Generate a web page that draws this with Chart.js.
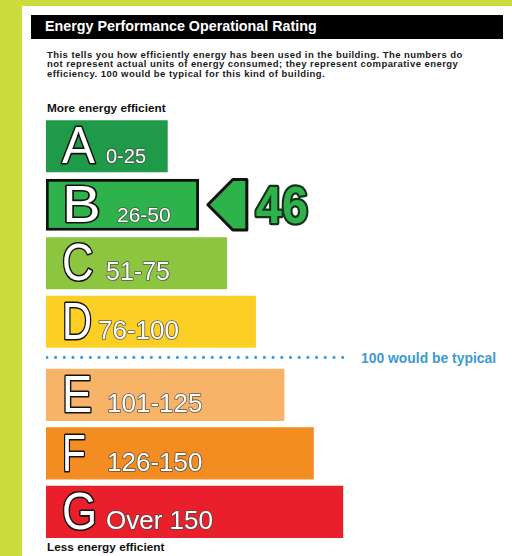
<!DOCTYPE html>
<html>
<head>
<meta charset="utf-8">
<script src="https://cdn.jsdelivr.net/npm/chart.js@4/dist/chart.umd.min.js"></script>
<style>
  html, body { margin:0; padding:0; }
  body { width:512px; height:556px; overflow:hidden; position:relative; background:#cddc3c; font-family:"Liberation Sans", Arial, sans-serif; }
  #panel { position:absolute; left:22px; top:6px; right:0; bottom:0; background:#ffffff; }
  #titlebar { position:absolute; left:31px; top:15px; width:472px; height:24px; background:#000; color:#fff; font-weight:bold; font-size:14.3px; line-height:23px; box-sizing:border-box; padding-left:14px; }
  #para { position:absolute; left:47px; top:50px; font-weight:bold; font-size:9.5px; letter-spacing:0.45px; line-height:9.4px; color:#1a1a1a; white-space:nowrap; }
  .edge { position:absolute; left:47px; font-weight:bold; font-size:11.8px; color:#111; white-space:nowrap; line-height:14px; }
  #more { top:101px; }
  #less { top:540px; }
  #typical { position:absolute; left:361px; top:350px; font-weight:bold; font-size:13.9px; line-height:16px; color:#3c9ad6; white-space:nowrap; }
  #c { position:absolute; left:0; top:0; }
</style>
</head>
<body>
<div id="panel"></div>
<div id="titlebar">Energy Performance Operational Rating</div>
<div id="para">This tells you how efficiently energy has been used in the building. The numbers do<br>not represent actual units of energy consumed; they represent comparative energy<br>efficiency. 100 would be typical for this kind of building.</div>
<div id="more" class="edge">More energy efficient</div>
<div id="typical">100 would be typical</div>
<div id="less" class="edge">Less energy efficient</div>
<canvas id="c" width="512" height="556"></canvas>
<script>
// ---- data ----
const bands = ['A', 'B', 'C', 'D', 'E', 'F', 'G'];
const ranges = ['0-25', '26-50', '51-75', '76-100', '101-125', '126-150', 'Over 150'];
const barLengths = [4.13, 5.2, 6.15, 7.13, 8.1, 9.1, 10.1];
const rowIndex = [0, 1, 2, 3, 4.25, 5.25, 6.25];
const typicalRow = 3.61;
const typicalLineEnds = [0.03, 10.3];
const rating = 46;
const ratingBand = 'B';

// ---- styles ----
const barColors = ['#1f9a48', '#2eb24b', '#8cc540', '#fccf25', '#f7b469', '#f48d21', '#e9202b'];
const rangeOffsets = [60, 71, 60, 52, 61, 61, 60];
const rangeFontSizes = [20, 21, 25, 26, 26, 26, 26];
const letterScaleX = [0.95, 1.12, 0.84, 0.8, 0.87, 0.75, 0.87];

const ratingIdx = bands.indexOf(ratingBand);

const labelPlugin = {
  id: 'bandLabels',
  afterDatasetsDraw(chart) {
    const ctx = chart.ctx;
    const meta = chart.getDatasetMeta(0);
    const left = chart.chartArea.left;
    ctx.save();
    ctx.textAlign = 'left';
    ctx.textBaseline = 'alphabetic';
    ctx.lineJoin = 'round';
    meta.data.forEach((bar, i) => {
      const bottom = bar.y + bar.height / 2;
      const base = bottom - 8.5;
      ctx.save();
      ctx.translate(left + 16, base);
      ctx.scale(letterScaleX[i], 1);
      ctx.font = '52px "Liberation Sans", Arial, sans-serif';
      ctx.lineWidth = 3.2;
      ctx.strokeStyle = '#111';
      ctx.strokeText(bands[i], 0, 0);
      ctx.fillStyle = '#ffffff';
      ctx.fillText(bands[i], 0, 0);
      ctx.restore();
      ctx.font = rangeFontSizes[i] + 'px "Liberation Sans", Arial, sans-serif';
      ctx.lineWidth = 1.6;
      ctx.strokeStyle = 'rgba(70,70,70,0.85)';
      ctx.strokeText(ranges[i], left + rangeOffsets[i], base);
      ctx.fillStyle = '#ffffff';
      ctx.fillText(ranges[i], left + rangeOffsets[i], base);
    });
    const rb = meta.data[ratingIdx];
    const xe = rb.x, yc = rb.y, h = rb.height / 2;
    ctx.beginPath();
    ctx.moveTo(xe + 9, yc);
    ctx.lineTo(xe + 34, yc - h + 0.5);
    ctx.lineTo(xe + 48, yc - h + 0.5);
    ctx.lineTo(xe + 48, yc + h - 0.5);
    ctx.lineTo(xe + 34, yc + h - 0.5);
    ctx.closePath();
    ctx.fillStyle = '#2eb24b';
    ctx.fill();
    ctx.lineWidth = 3;
    ctx.strokeStyle = '#111';
    ctx.stroke();
    ctx.save();
    ctx.translate(xe + 57, yc + 18.5);
    ctx.scale(0.92, 1);
    ctx.font = 'bold 51px "Liberation Sans", Arial, sans-serif';
    ctx.lineWidth = 4.5;
    ctx.strokeStyle = '#16301a';
    ctx.strokeText(String(rating), 0, 0);
    ctx.fillStyle = '#2eb24b';
    ctx.fillText(String(rating), 0, 0);
    ctx.restore();
    ctx.restore();
  }
};

new Chart(document.getElementById('c'), {
  type: 'bar',
  data: {
    datasets: [
      {
        type: 'bar',
        data: bands.map((b, i) => ({ x: barLengths[i], y: rowIndex[i] })),
        backgroundColor: barColors,
        borderColor: bands.map((b, i) => i === ratingIdx ? '#111' : 'rgba(0,0,0,0)'),
        borderWidth: bands.map((b, i) => i === ratingIdx ? 3 : 0),
        borderSkipped: false,
        barThickness: 51.5,
        order: 1
      },
      {
        type: 'line',
        data: typicalLineEnds.map(v => ({ x: v, y: typicalRow })),
        borderColor: '#3fa0da',
        borderWidth: 3.2,
        borderDash: [0, 8.7],
        borderCapStyle: 'round',
        pointRadius: 0,
        fill: false,
        order: 0
      }
    ]
  },
  options: {
    indexAxis: 'y',
    responsive: false,
    animation: false,
    layout: { padding: { left: 46, right: 6, top: 117, bottom: 12 } },
    scales: {
      x: { type: 'linear', min: 0, max: 15.65, display: false, offset: false },
      y: { type: 'linear', min: -0.5, max: 6.8, reverse: true, display: false, offset: false }
    },
    plugins: { legend: { display: false }, tooltip: { enabled: false }, title: { display: false } }
  },
  plugins: [labelPlugin]
});
</script>
</body>
</html>
